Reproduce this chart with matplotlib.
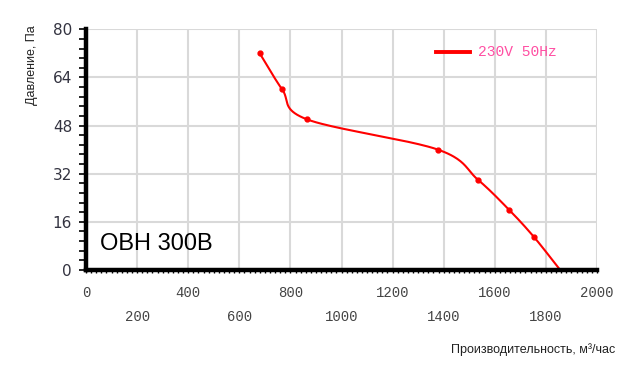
import numpy as np
import matplotlib
matplotlib.use("Agg")
import matplotlib.pyplot as plt
from matplotlib.ticker import MultipleLocator

# Data
flow = [680, 768, 864, 1378, 1534, 1656, 1754, 1856]
pressure = [72.0, 60.0, 50.1, 40.0, 30.0, 20.0, 10.9, 0.0]
xticks = [0, 200, 400, 600, 800, 1000, 1200, 1400, 1600, 1800, 2000]
yticks = [0, 16, 32, 48, 64, 80]
series_label = "230V 50Hz"
model = "OBH 300B"
ylabel = "Давление, Па"
xlabel = "Производительность, м³/час"


def catmull_rom(xs, ys, n=40):
    P = np.column_stack([xs, ys]).astype(float)
    pts = np.vstack([P[0] - (P[1] - P[0]), P, P[-1] + (P[-1] - P[-2])])
    out = []
    t = np.linspace(0, 1, n)[:, None]
    for i in range(1, len(pts) - 2):
        p0, p1, p2, p3 = pts[i - 1], pts[i], pts[i + 1], pts[i + 2]
        m1 = (p2 - p0) / 2
        m2 = (p3 - p1) / 2
        h00 = 2 * t**3 - 3 * t**2 + 1
        h10 = t**3 - 2 * t**2 + t
        h01 = -2 * t**3 + 3 * t**2
        h11 = t**3 - t**2
        out.append(h00 * p1 + h10 * m1 + h01 * p2 + h11 * m2)
    c = np.vstack(out)
    return c[:, 0], c[:, 1]


fig = plt.figure(figsize=(6.4, 3.76), dpi=100)
ax = fig.add_axes([86 / 640, 1 - 270 / 376, (597 - 86) / 640, (270 - 29.3) / 376])
ax.set_xlim(0, 2000)
ax.set_ylim(0, 80)

grid_c = "#d9d9d9"
ax.set_xticks(xticks)
ax.set_yticks(yticks)
ax.grid(True, color=grid_c, linewidth=1.5)
ax.set_axisbelow(True)

for s in ["top", "right"]:
    ax.spines[s].set_visible(False)
ax.spines["left"].set_linewidth(3.2)
ax.spines["bottom"].set_linewidth(3.2)
ax.spines["left"].set_zorder(5)
ax.spines["bottom"].set_zorder(5)

# y ticks
ax.yaxis.set_minor_locator(MultipleLocator(3.2))
ax.tick_params(axis="y", which="both", direction="out", length=5, width=1.2, color="black")
ax.tick_params(axis="y", which="major", pad=5, labelsize=11, labelcolor="#333340")
# x ticks
ax.xaxis.set_minor_locator(MultipleLocator(20))
ax.tick_params(axis="x", which="both", direction="out", length=2.5, width=1, color="black")
ax.tick_params(axis="x", which="major", labelbottom=False)
xtr = ax.get_xaxis_transform()
for i, v in enumerate(xticks):
    yoff = -0.095 if i % 2 == 0 else -0.195
    ax.text(v, yoff, str(v), transform=xtr, ha="center", va="center",
            family="Liberation Mono", fontsize=10, color="#444444")

# curve
cx, cy = catmull_rom(flow, pressure)
ax.plot(cx, cy, color="#ff0000", linewidth=1.5, zorder=4, clip_on=False)
ax.plot(flow[:-1], pressure[:-1], "o", color="#ff0000", markersize=3.5, zorder=4)

# legend
lx = ax.transData.inverted()
ax.plot([1370, 1503], [72.5, 72.5], color="#ff0000", linewidth=2.8, zorder=4)
ax.text(1533, 72.5, series_label, ha="left", va="center", family="Liberation Mono",
        fontsize=10.5, color="#ff4fa3")

ax.text(0.028, 0.108, model, transform=ax.transAxes, ha="left", va="center",
        family="Liberation Sans", fontsize=17, color="black")

fig.text(32 / 640, 1 - 65 / 376, ylabel, rotation=90, ha="center", va="center",
         family="Liberation Sans", fontsize=9, color="#222222")
fig.text(615 / 640, 1 - 350 / 376, xlabel, ha="right", va="center",
         family="Liberation Sans", fontsize=9, color="#222222")

fig.savefig("out.png", dpi=100)
